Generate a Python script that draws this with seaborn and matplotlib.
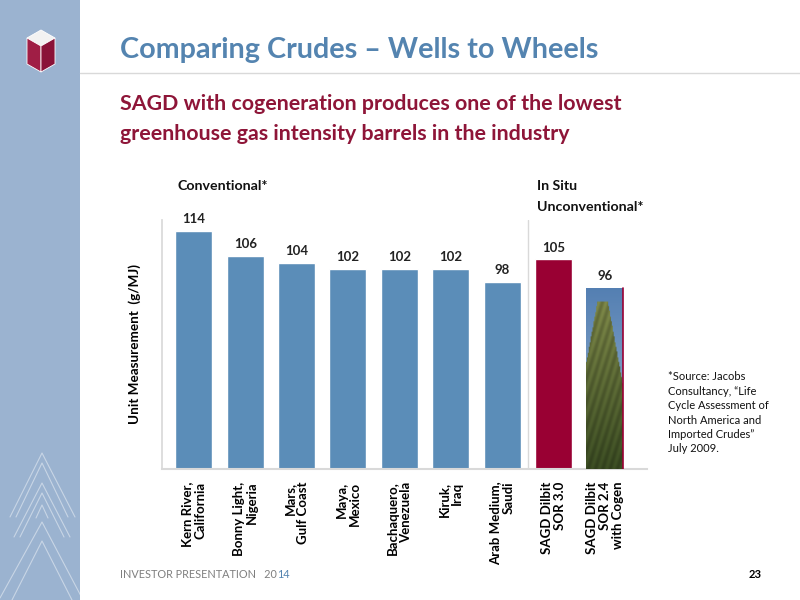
import numpy as np
import pandas as pd
import matplotlib
matplotlib.use("Agg")
import matplotlib.pyplot as plt
from matplotlib.patches import Polygon, Rectangle
from matplotlib.lines import Line2D
import seaborn as sns

# ---- data ----
categories = ["Kern River,\nCalifornia", "Bonny Light,\nNigeria", "Mars,\nGulf Coast",
              "Maya,\nMexico", "Bachaquero,\nVenezuela", "Kiruk,\nIraq",
              "Arab Medium,\nSaudi", "SAGD Dilbit\nSOR 3.0", "SAGD Dilbit\nSOR 2.4\nwith Cogen"]
values = [114, 106, 104, 102, 102, 102, 98, 105, 96]
groups = ["Conventional"] * 7 + ["SAGD", "Cogen"]
footnote_lines = ["*Source: Jacobs", "Consultancy, \u201cLife", "Cycle Assessment of",
                  "North America and", "Imported Crudes\u201d", "July 2009."]

BLUE = "#5B8DB8"
CRIMSON = "#990033"
TITLE_BLUE = "#5484B0"
SUB_RED = "#8E1538"
PANEL = "#9BB3D0"
YMIN, YMAX = 39.5, 117.3

sns.set_theme(style="white")
plt.rcParams["font.family"] = ["Lato", "DejaVu Sans"]

W, H = 800, 600
fig = plt.figure(figsize=(8, 6), dpi=100)

def fx(x):
    return x / W

def fy(y):
    return 1 - y / H

# left panel
fig.patches.append(Rectangle((0, 0), fx(80), 1, transform=fig.transFigure,
                             facecolor=PANEL, edgecolor="none", zorder=0))
chev = [
    [(10, 517), (42, 453), (75, 517)],
    [(16, 517), (42, 463), (68, 517)],
    [(14, 537), (42, 483), (70, 537)],
    [(20, 537), (42, 493), (64, 537)],
    [(36, 518), (42, 505), (48, 518)],
    [(0, 598), (42, 522), (82, 598)],
    [(12, 600), (42, 541), (72, 600)],
]
for pts in chev:
    xs = [fx(p[0]) for p in pts]
    ys = [fy(p[1]) for p in pts]
    fig.lines.append(Line2D(xs, ys, transform=fig.transFigure, color="white",
                            alpha=0.45, lw=0.8))
cx, top = 41, 30
top_face = [(cx, top), (cx + 14, top + 8), (cx, top + 16), (cx - 14, top + 8)]
left_face = [(cx - 14, top + 8), (cx, top + 16), (cx, top + 42), (cx - 14, top + 34)]
right_face = [(cx, top + 16), (cx + 14, top + 8), (cx + 14, top + 34), (cx, top + 42)]
for face, col in [(top_face, "#F2F2F2"), (left_face, "#A01E45"), (right_face, "#8A1238")]:
    fig.patches.append(Polygon([(fx(a), fy(b)) for a, b in face], closed=True,
                               transform=fig.transFigure, facecolor=col, edgecolor="white", lw=0.6))

# title & rule
fig.text(fx(120), fy(50), "Comparing Crudes \u2013 Wells to Wheels", fontsize=20.7,
         fontweight="bold", color=TITLE_BLUE, va="center", ha="left")
fig.lines.append(Line2D([fx(80), 1], [fy(73), fy(73)], transform=fig.transFigure,
                        color="#D9D9D9", lw=1))
fig.text(fx(120), fy(104), "SAGD with cogeneration produces one of the lowest",
         fontsize=15.4, fontweight="bold", color=SUB_RED, va="center", ha="left")
fig.text(fx(120), fy(134), "greenhouse gas intensity barrels in the industry",
         fontsize=15.4, fontweight="bold", color=SUB_RED, va="center", ha="left")

# chart
ax = fig.add_axes([fx(162), fy(469), fx(647) - fx(162), fy(220) - fy(469)])
df = pd.DataFrame({"crude": categories, "value": values, "group": groups})
palette = {"Conventional": BLUE, "SAGD": CRIMSON, "Cogen": "#5A86B5"}
sns.barplot(data=df, x="crude", y="value", hue="group", palette=palette, dodge=False,
            width=0.72, legend=False, ax=ax, saturation=1)

bars = sorted([p for p in ax.patches if p.get_height() > 0], key=lambda p: p.get_x())
for p, v in zip(bars, values):
    ax.text(p.get_x() + p.get_width() / 2, v + 1.8, f"{v}", ha="center", va="bottom",
            fontsize=9.5, fontweight="bold", color="#222222")

# tree picture bar imitation
tb = bars[-1]
ny, nx = 120, 40
vv = np.linspace(0, 1, ny)[:, None]
uu = np.linspace(0, 1, nx)[None, :]
sky_top = np.array([0.33, 0.50, 0.70])
sky_bot = np.array([0.62, 0.72, 0.82])
img = sky_top * (1 - vv[..., None]) + sky_bot * vv[..., None]
img = np.broadcast_to(img, (ny, nx, 3)).copy()
mask = np.abs(uu - 0.45) < (0.08 + 0.9 * vv)
mask &= vv > 0.07
green_top = np.array([0.52, 0.56, 0.30])
green_bot = np.array([0.24, 0.31, 0.14])
gcol = green_top * (1 - vv[..., None]) + green_bot * vv[..., None]
gcol = np.broadcast_to(gcol, (ny, nx, 3))
stripes = 0.9 + 0.1 * np.sin(uu * 31 + vv * 47)[..., None]
img[mask] = (gcol * stripes)[mask]
x0, x1 = tb.get_x(), tb.get_x() + tb.get_width()
im = ax.imshow(img, extent=[x0, x1, YMIN, tb.get_height()], aspect="auto", zorder=3,
               interpolation="bilinear")
im.set_clip_path(tb)
ax.plot([x1, x1], [YMIN, tb.get_height()], color=CRIMSON, lw=1.2, zorder=4)
ax.set_xlim(-0.62, 8.82)
ax.set_ylim(YMIN, YMAX)

ax.axvline(6.5, color="#D9D9D9", lw=1)

for s in ["top", "right"]:
    ax.spines[s].set_visible(False)
ax.spines["left"].set_color("#D9D9D9")
ax.spines["bottom"].set_color("#D9D9D9")
ax.spines["bottom"].set_linewidth(1.5)
ax.set_yticks([])
ax.tick_params(axis="x", length=0, pad=9)
ax.set_xticks(range(len(categories)))
ax.set_xticklabels(categories, rotation=90, fontsize=9.5, fontweight="bold",
                   color="black", ha="center", va="top", multialignment="right",
                   linespacing=1.1)
ax.set_xlabel("")
ax.set_ylabel("Unit Measurement  (g/MJ)", fontsize=9.7, fontweight="bold",
              color="black", labelpad=15)

fig.text(fx(178), fy(186), "Conventional*", fontsize=10.2, fontweight="bold",
         va="center", ha="left", color="#111111")
fig.text(fx(537), fy(186), "In Situ", fontsize=10.2, fontweight="bold",
         va="center", ha="left", color="#111111")
fig.text(fx(537), fy(207), "Unconventional*", fontsize=10.2, fontweight="bold",
         va="center", ha="left", color="#111111")

for i, line in enumerate(footnote_lines):
    fig.text(fx(668), fy(377 + i * 14.4), line, fontsize=8, va="center",
             ha="left", color="#111111")

t = fig.text(fx(120), fy(575), "INVESTOR PRESENTATION   20", fontsize=7.8,
             color="#7F7F7F", va="center", ha="left")
fig.canvas.draw()
bb = t.get_window_extent()
fig.text(bb.x1 / W, fy(575), "14", fontsize=7.8, color=TITLE_BLUE, va="center", ha="left")
fig.text(fx(762), fy(575), "23", fontsize=8, fontweight="bold", color="black",
         va="center", ha="right")

fig.savefig("out.png", dpi=100)
